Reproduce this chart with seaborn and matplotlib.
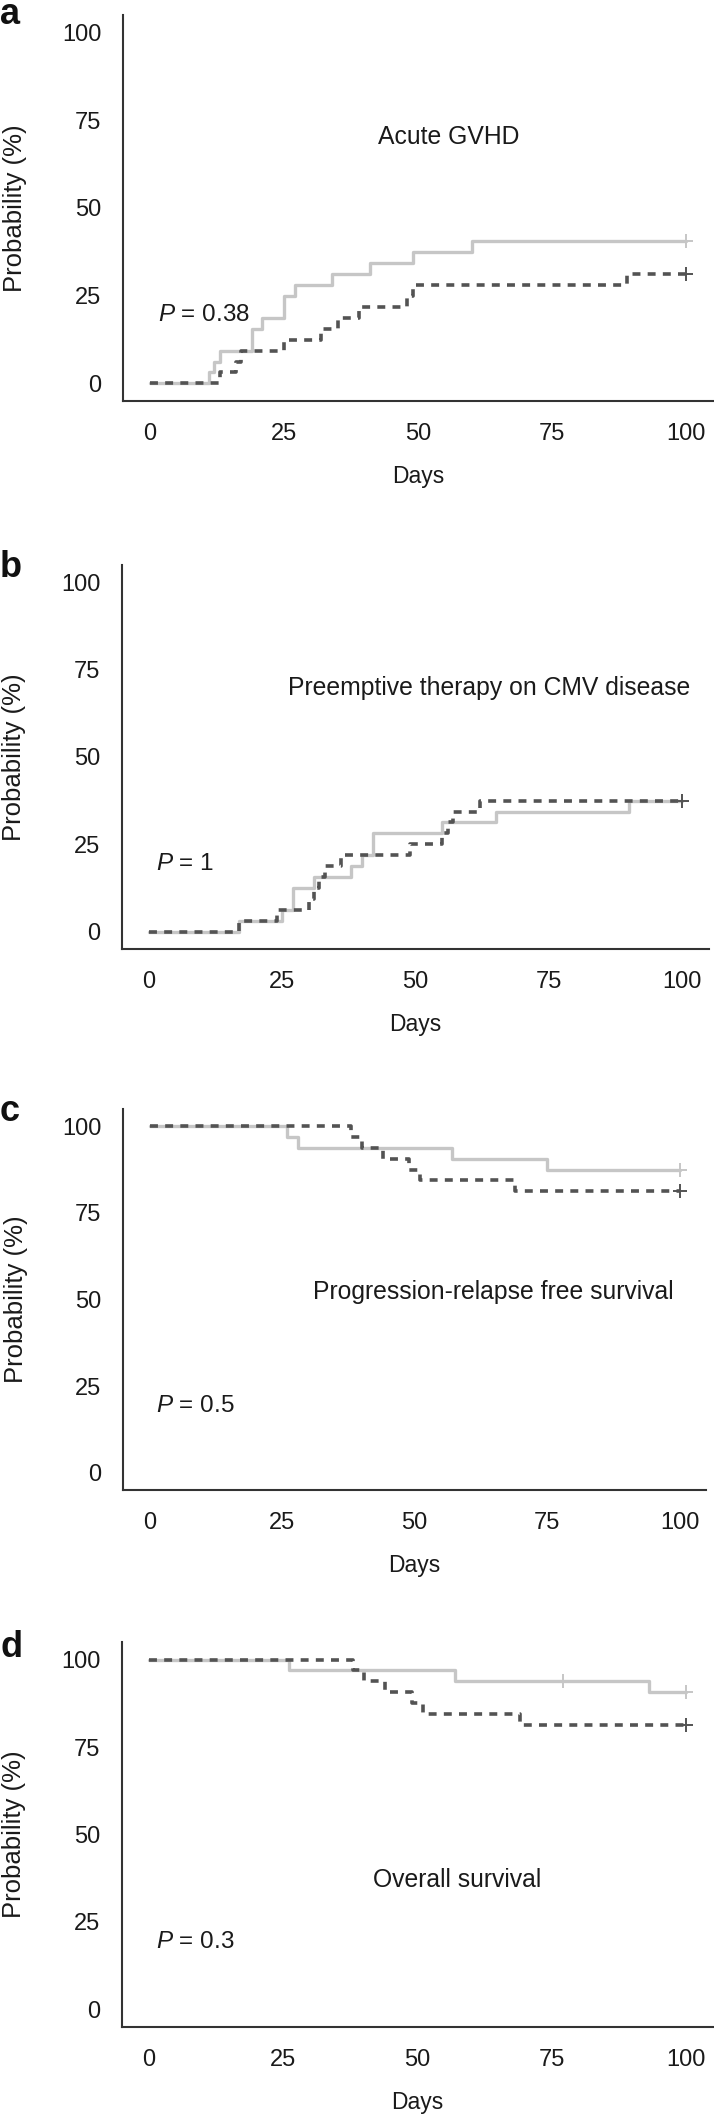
import numpy as np
import matplotlib.pyplot as plt
import seaborn as sns

# ---- data (days, probability %) ----
# a: acute GVHD
a_t_light = [0, 11, 12, 13, 19, 21, 25, 27, 34, 41, 49, 60, 100]
a_p_light = [0, 3.125, 6.25, 9.375, 15.625, 18.75, 25, 28.125, 31.25, 34.375, 37.5, 40.625, 40.625]
a_t_dark = [0, 13, 16, 17, 25, 32, 35, 39, 48, 49, 89, 100]
a_p_dark = [0, 3.125, 6.25, 9.375, 12.5, 15.625, 18.75, 21.875, 25, 28.125, 31.25, 31.25]

# b: preemptive therapy on CMV disease
b_t_light = [0, 17, 25, 27, 31, 38, 40, 42, 55, 65, 90, 100]
b_p_light = [0, 3.125, 6.25, 12.5, 15.625, 18.75, 21.875, 28.125, 31.25, 34.375, 37.5, 37.5]
b_t_dark = [0, 17, 24, 30, 31, 32, 33, 36, 49, 55, 56, 57, 62, 100]
b_p_dark = [0, 3.125, 6.25, 9.375, 12.5, 15.625, 18.75, 21.875, 25, 28.125, 31.25, 34.375, 37.5, 37.5]

# c: progression-relapse free survival
c_t_light = [0, 26, 28, 57, 75, 100]
c_p_light = [100, 96.875, 93.75, 90.625, 87.5, 87.5]
c_t_dark = [0, 38, 40, 44, 49, 51, 69, 100]
c_p_dark = [100, 96.875, 93.75, 90.625, 87.5, 84.375, 81.25, 81.25]

# d: overall survival
d_t_light = [0, 26, 57, 93, 100]
d_p_light = [100, 96.875, 93.75, 90.625, 90.625]
d_t_dark = [0, 38, 40, 44, 49, 51, 69, 100]
d_p_dark = [100, 96.875, 93.75, 90.625, 87.5, 84.375, 81.25, 81.25]

# censor marks (+)
a_cens_light = ([100], [40.625]); a_cens_dark = ([100], [31.25])
b_cens_light = ([100], [37.5]);   b_cens_dark = ([100], [37.5])
c_cens_light = ([100], [87.5]);   c_cens_dark = ([100], [81.25])
d_cens_light = ([77, 100], [93.75, 90.625]); d_cens_dark = ([100], [81.25])

titles = ["Acute GVHD", "Preemptive therapy on CMV disease",
          "Progression-relapse free survival", "Overall survival"]
pvals = ["0.38", "1", "0.5", "0.3"]
letters = ["a", "b", "c", "d"]
ticks = [0, 25, 50, 75, 100]

sns.set_style("white")
plt.rcParams['font.family'] = ['Liberation Sans', 'DejaVu Sans']
plt.rcParams['mathtext.fontset'] = 'custom'
plt.rcParams['mathtext.it'] = 'Liberation Sans:italic'
plt.rcParams['mathtext.rm'] = 'Liberation Sans'

LIGHT = "#c6c6c6"
DARK = "#535353"
AX = "#333333"
TXT = "#1a1a1a"
W, H = 714, 2116

# axes boxes in pixels: left, right, top, bottom
boxes = [(123, 713, 15, 401), (122, 709, 565, 949),
         (123, 706, 1109, 1490), (122, 713, 1642, 2027)]
title_pos = [(55.7, 70.1), (63.8, 69.7), (64.8, 52.3), (57.4, 37.1)]
p_pos = [(1.5, 19.4), (1.3, 19.4), (1.3, 19.2), (1.3, 19.4)]
letter_base = [24, 577, 1121, 1657]

curves = [(a_t_light, a_p_light, a_t_dark, a_p_dark, a_cens_light, a_cens_dark),
          (b_t_light, b_p_light, b_t_dark, b_p_dark, b_cens_light, b_cens_dark),
          (c_t_light, c_p_light, c_t_dark, c_p_dark, c_cens_light, c_cens_dark),
          (d_t_light, d_p_light, d_t_dark, d_p_dark, d_cens_light, d_cens_dark)]

fig = plt.figure(figsize=(W / 100, H / 100), dpi=100)

for i in range(4):
    l, r, t, b = boxes[i]
    ax = fig.add_axes([l / W, 1 - b / H, (r - l) / W, (b - t) / H])
    tl, pl, td, pd_, cl, cd = curves[i]

    sns.lineplot(x=tl, y=pl, ax=ax, drawstyle="steps-post", color=LIGHT,
                 lw=2.4, estimator=None, sort=False)
    sns.lineplot(x=td, y=pd_, ax=ax, drawstyle="steps-post", color=DARK,
                 lw=2.6, linestyle=(0, (2.2, 2.0)), estimator=None, sort=False)
    ax.plot(cl[0], cl[1], ls="none", marker="+", ms=10, mew=1.4, color=LIGHT)
    ax.plot(cd[0], cd[1], ls="none", marker="+", ms=10, mew=1.4, color=DARK)

    ax.set_xlim(-5, 105)
    ax.set_ylim(-5, 105)
    ax.set_xticks(ticks)
    ax.set_yticks(ticks)
    sns.despine(ax=ax)
    for s in ["left", "bottom"]:
        ax.spines[s].set_color(AX)
        ax.spines[s].set_linewidth(1.5)
    ax.tick_params(axis="both", direction="out", length=3, width=1.1,
                   color=AX, labelsize=17, labelcolor=TXT)
    ax.tick_params(axis="x", pad=13)
    ax.tick_params(axis="y", pad=12.5)

    ax.set_xlabel("Days", fontsize=16.5, color=TXT, labelpad=14)
    ax.set_ylabel("Probability (%)", fontsize=18.5, color=TXT)
    ax.yaxis.set_label_coords(-0.163, 0.5)

    ax.text(title_pos[i][0], title_pos[i][1], titles[i], fontsize=17.8,
            ha="center", va="center", color=TXT)
    ax.text(p_pos[i][0], p_pos[i][1], r"$P$ = " + pvals[i], fontsize=17.5,
            ha="left", va="center", color=TXT)

    fig.text(0.0, 1 - letter_base[i] / H, letters[i], fontsize=26,
             fontweight="bold", ha="left", va="baseline", color="#111111")

fig.savefig("out.png", dpi=100)
